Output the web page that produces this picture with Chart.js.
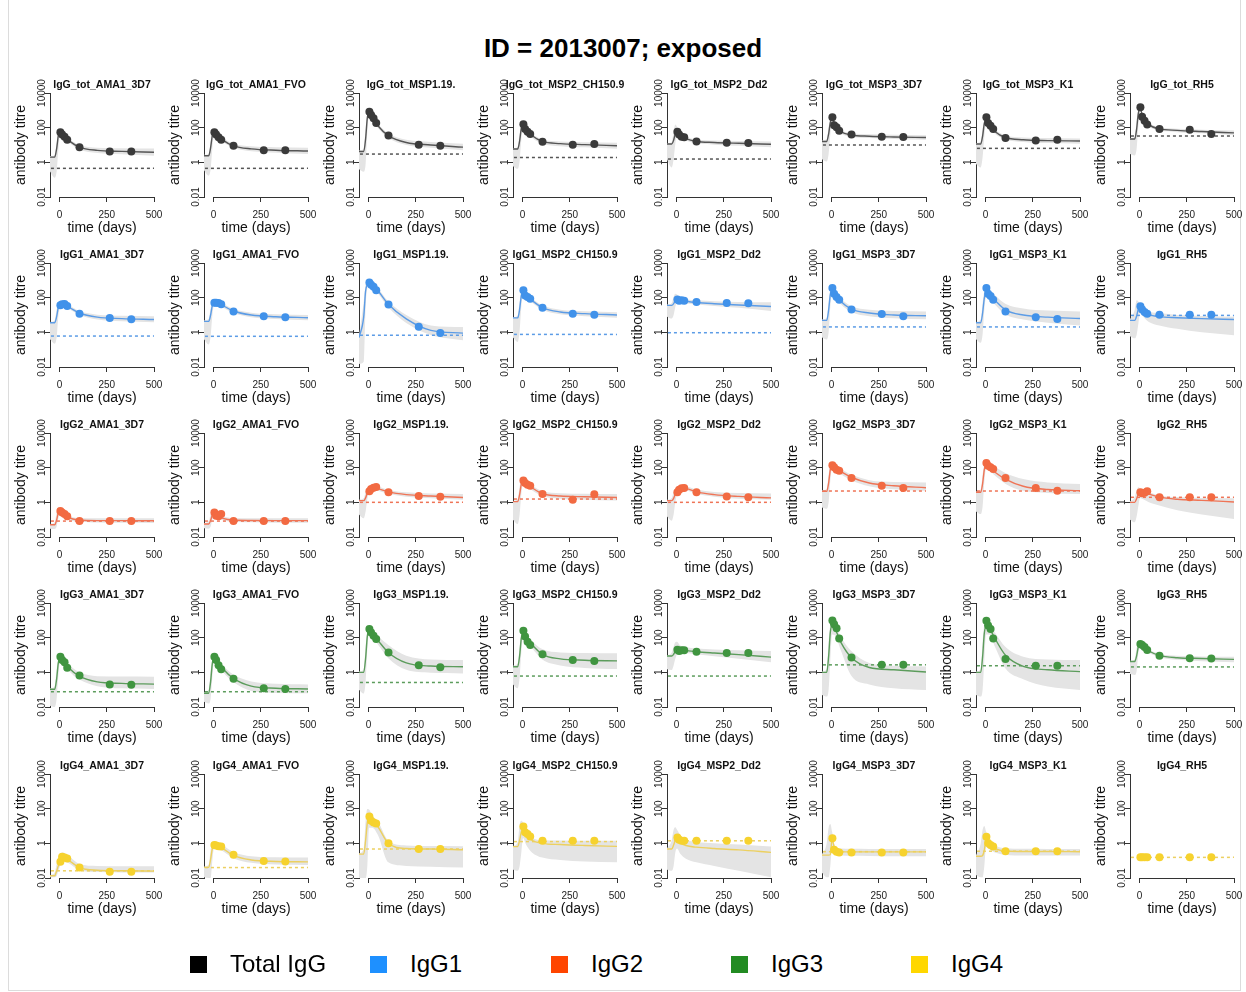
<!DOCTYPE html>
<html>
<head>
<meta charset="utf-8">
<title>ID = 2013007; exposed</title>
<script src="https://cdn.jsdelivr.net/npm/chart.js@4.4.0/dist/chart.umd.min.js"></script>
<style>
  html, body { margin: 0; padding: 0; background: #fff; }
  body { width: 1246px; height: 992px; position: relative; overflow: hidden;
         font-family: 'Liberation Sans', Arial, Helvetica, sans-serif; color: #000; }
  #frame { position: absolute; left: 8px; top: 0; width: 1231px; height: 990px;
           border-left: 1px solid #dcdcdc; border-right: 1px solid #dcdcdc; border-bottom: 1px solid #dcdcdc; }
  #main-title { position: absolute; left: 0; top: 33px; width: 1246px; text-align: center;
                font-weight: bold; font-size: 26px; line-height: 30px; }
  .panel { position: absolute; width: 164px; height: 170px; }
  .legend-item { position: absolute; top: 950px; height: 28px; display: flex; align-items: center; }
  .legend-box { width: 17px; height: 17px; margin-right: 23px; }
  .legend-text { font-size: 24px; line-height: 28px; }
</style>
</head>
<body>
<div id="frame"></div>
<div id="main-title">ID = 2013007; exposed</div>
<div id="panels"></div>
<div id="legend"></div>

<script>
// ── Labels ─────────────────────────────────────────────────────────
const ISOTYPES      = ['IgG_tot', 'IgG1', 'IgG2', 'IgG3', 'IgG4'];
const LEGEND_LABELS = ['Total IgG', 'IgG1', 'IgG2', 'IgG3', 'IgG4'];
const ANTIGENS      = ['AMA1_3D7', 'AMA1_FVO', 'MSP1.19.', 'MSP2_CH150.9',
                       'MSP2_Dd2', 'MSP3_3D7', 'MSP3_K1', 'RH5'];

// ── Axes ───────────────────────────────────────────────────────────
const X_TICKS  = [0, 250, 500];
const Y_TICKS  = [0.01, 1, 100, 10000];
const OBS_DAYS = [5, 14, 27, 41, 106, 266, 380];
const FIT_DAYS = [-50, -25, -15, -6, 3, 20, 50, 105, 200, 330, 500];

// ── Total IgG ──────────────────────────────────────────────────────
const TOT_OBS = [
  [54, 40, 30, 20, 7.4, 4.2, 4.2],
  [54, 40, 28, 20, 9, 4.9, 4.9],
  [830, 540, 350, 185, 35, 10.5, 9],
  [160, 83, 59, 43, 15.5, 10.5, 11.5],
  [59, 40, 30, 28, 16, 13.5, 13],
  [400, 140, 105, 67, 40, 30, 29],
  [400, 185, 130, 83, 25, 18, 20],
  [1500, 420, 250, 150, 83, 76, 43],
];
const TOT_FIT = [
  [2, 2, 6, 35, 59, 35, 18, 7.6, 4.9, 4.3, 3.8],
  [2.4, 2.4, 7, 36, 59, 38, 19, 9, 6, 5, 4.5],
  [4.2, 4.2, 23, 360, 800, 400, 130, 35, 14, 10, 7.5],
  [5.9, 5.9, 17, 93, 150, 75, 35, 16, 12, 10.5, 9],
  [11.5, 11.5, 19, 44, 55, 36, 23, 16, 14, 12.5, 11],
  [16, 16, 43, 200, 320, 150, 60, 38, 32, 29, 27],
  [11.5, 11.5, 33, 175, 280, 150, 60, 27, 20, 18, 17],
  [22, 22, 82, 660, 1200, 380, 150, 85, 70, 60, 50],
];
const TOT_LO = [
  [0.3, 0.13, 0.3, 5, 40, 27, 14, 5.5, 3.4, 2.9, 2.4],
  [0.35, 0.17, 0.4, 6, 40, 29, 15, 7, 4.4, 3.6, 3],
  [0.4, 0.29, 0.8, 60, 550, 300, 95, 25, 10, 7, 5],
  [0.6, 0.42, 1.2, 20, 100, 55, 26, 12, 8.5, 7.3, 6],
  [1.5, 0.5, 1.5, 12, 35, 27, 18, 12.5, 10.5, 9, 7.5],
  [1.5, 1.1, 3, 40, 200, 110, 46, 30, 25, 22, 20],
  [0.8, 0.5, 2, 30, 180, 110, 45, 21, 15, 13, 12],
  [3, 2.5, 6, 120, 800, 280, 115, 68, 55, 47, 38],
];
const TOT_HI = [
  [2.3, 2.6, 12, 50, 75, 45, 23, 10, 7, 6.4, 6.2],
  [2.7, 3, 14, 52, 75, 48, 25, 12, 8.5, 7.5, 7],
  [4.8, 6, 90, 700, 1000, 520, 170, 48, 20, 15, 12],
  [6.5, 8, 45, 140, 200, 100, 46, 21, 16, 14.5, 13.5],
  [12.5, 15, 60, 150, 110, 50, 30, 21, 18, 17, 16],
  [18, 22, 110, 330, 420, 200, 78, 48, 42, 39, 37],
  [13, 16, 90, 300, 380, 200, 80, 35, 27, 25, 24],
  [25, 30, 250, 1100, 1500, 500, 190, 105, 88, 77, 68],
];
const TOT_BASE = [0.45, 0.45, 3.0, 1.9, 1.55, 10, 6.4, 33];

// ── IgG1 ───────────────────────────────────────────────────────────
const IGG1_OBS = [
  [36, 42, 43, 33, 12, 6.8, 5.6],
  [51, 51, 49, 42, 16, 8.4, 7.4],
  [740, 560, 420, 265, 40, 2.1, 0.91],
  [265, 135, 110, 87, 26, 12, 10.5],
  [79, 67, 70, 67, 56, 49, 47],
  [360, 170, 110, 76, 21, 11.5, 8.4],
  [360, 170, 125, 76, 16, 7.4, 5.9],
  [32, 21, 15, 12, 10.5, 10.5, 10.5],
];
const IGG1_FIT = [
  [3.6, 3.6, 8, 28, 38, 40, 28, 13, 7.5, 6.2, 5.5],
  [4.3, 4.3, 10, 35, 48, 50, 35, 17, 10, 8, 7],
  [0.49, 8, 250, 550, 740, 520, 250, 42, 6, 1.3, 0.9],
  [6.8, 6.8, 21, 130, 220, 140, 70, 27, 15, 12, 10],
  [36, 36, 45, 66, 76, 70, 62, 53, 45, 38, 31],
  [4.9, 4.9, 19, 155, 280, 160, 60, 22, 13, 10, 9],
  [3.6, 3.6, 13, 95, 170, 150, 70, 20, 10, 7.5, 6.3],
  [4.9, 4.9, 8.7, 22, 29, 17, 10.5, 8, 7, 6.2, 5.5],
];
const IGG1_LO = [
  [0.4, 0.22, 0.5, 8, 27, 31, 22, 10, 5.5, 4.4, 3.8],
  [0.4, 0.2, 0.6, 9, 35, 40, 27, 13, 7.5, 5.8, 5],
  [0.015, 0.02, 30, 350, 550, 400, 180, 28, 3.5, 0.7, 0.35],
  [0.5, 0.28, 1.2, 30, 150, 105, 53, 20, 11, 8.5, 7],
  [8, 6.2, 10, 30, 55, 55, 48, 41, 33, 26, 17],
  [0.5, 0.38, 1, 30, 180, 110, 42, 15, 8.5, 6.5, 5.6],
  [0.4, 0.25, 0.8, 20, 100, 95, 40, 11, 5.5, 3.6, 2.5],
  [0.6, 0.45, 0.7, 3, 14, 8, 4, 2.5, 1.6, 1.0, 0.68],
];
const IGG1_HI = [
  [4, 5, 20, 45, 50, 52, 36, 17, 10.5, 9, 8.5],
  [4.8, 6, 24, 58, 62, 62, 44, 22, 13.5, 11, 10],
  [0.6, 60, 600, 900, 1000, 700, 340, 62, 10, 2.5, 2],
  [7.5, 9.5, 60, 220, 300, 185, 92, 36, 20, 16.5, 14.5],
  [40, 50, 110, 170, 150, 100, 82, 70, 62, 57, 55],
  [5.5, 7, 55, 300, 420, 240, 90, 33, 20, 17, 16],
  [4, 5.5, 50, 250, 380, 280, 140, 45, 24, 18, 16],
  [5.5, 20, 70, 60, 45, 26, 16, 13, 10, 8.8, 8],
];
const IGG1_BASE = [0.61, 0.59, 0.68, 0.76, 0.95, 2.05, 2.05, 9.5];

// ── IgG2 ───────────────────────────────────────────────────────────
const IGG2_OBS = [
  [0.32, 0.26, 0.21, 0.155, 0.083, 0.083, 0.083],
  [0.26, 0.17, 0.155, 0.21, 0.083, 0.083, 0.083],
  [4.3, 5.9, 7, 7.6, 3.8, 2.3, 2.1],
  [18, 13, 10.5, 9, 3, 1.4, 2.9],
  [3.8, 5.4, 6.5, 6.8, 3.8, 2.2, 1.95],
  [140, 105, 76, 67, 25, 9, 6.8],
  [185, 130, 105, 83, 25, 6.8, 4.7],
  [3.8, 3.3, 3.6, 4.3, 1.95, 1.95, 1.95],
];
const IGG2_FIT = [
  [0.051, 0.051, 0.095, 0.25, 0.33, 0.25, 0.13, 0.095, 0.088, 0.088, 0.087],
  [0.056, 0.056, 0.09, 0.19, 0.24, 0.17, 0.12, 0.095, 0.09, 0.088, 0.088],
  [1.26, 1.26, 1.8, 3.5, 5.3, 6.3, 6, 4, 2.8, 2.3, 1.9],
  [1.1, 1.1, 2.75, 11.7, 18, 12, 7, 3.2, 2.3, 2.1, 1.9],
  [1.26, 1.26, 1.7, 3, 4.2, 5.8, 6.2, 4, 2.8, 2.2, 1.8],
  [4.3, 4.3, 13, 78, 130, 95, 60, 28, 13, 9, 7],
  [3.8, 3.8, 12, 78, 130, 100, 55, 22, 8.5, 5.5, 4.7],
  [1.0, 1.0, 1.6, 3, 3.7, 3.6, 3, 2, 1.5, 1.3, 1.05],
];
const IGG2_LO = [
  [0.03, 0.029, 0.04, 0.12, 0.24, 0.18, 0.1, 0.075, 0.068, 0.066, 0.065],
  [0.032, 0.03, 0.04, 0.1, 0.17, 0.13, 0.093, 0.075, 0.07, 0.067, 0.066],
  [0.2, 0.12, 0.3, 1.5, 3.8, 5, 4.7, 3.1, 2.1, 1.7, 1.4],
  [0.1, 0.056, 0.2, 3, 12, 8.5, 5, 2.3, 1.6, 1.4, 1.26],
  [0.15, 0.087, 0.2, 1, 2.8, 4.3, 4.8, 3.1, 2.1, 1.6, 1.4],
  [0.5, 0.42, 1, 18, 90, 70, 42, 19, 8.5, 5.6, 4.6],
  [0.3, 0.21, 0.6, 15, 85, 70, 35, 12, 4.6, 3.5, 3],
  [0.1, 0.07, 0.15, 0.6, 1.8, 1.5, 1.0, 0.65, 0.35, 0.2, 0.11],
];
const IGG2_HI = [
  [0.056, 0.07, 0.25, 0.5, 0.5, 0.34, 0.17, 0.125, 0.12, 0.12, 0.12],
  [0.062, 0.08, 0.2, 0.36, 0.36, 0.24, 0.16, 0.125, 0.12, 0.12, 0.12],
  [1.4, 1.7, 4, 6.5, 7.5, 8, 7.8, 5.2, 3.8, 3.2, 3],
  [1.2, 1.6, 8, 20, 25, 16, 9.5, 4.5, 3.3, 3.1, 3],
  [1.4, 1.8, 4, 6, 6.5, 8, 8.3, 5.5, 4, 3.4, 3.2],
  [4.8, 6, 40, 150, 180, 130, 85, 40, 19, 15, 14],
  [4.2, 5.5, 40, 160, 200, 160, 110, 50, 22, 14, 11.5],
  [1.1, 2, 5, 7.4, 6.5, 5.5, 4, 2.5, 2, 1.8, 1.7],
];
const IGG2_BASE = [0.083, 0.083, 1.0, 1.55, 1.0, 4.5, 4.5, 1.95];

// ── IgG3 ───────────────────────────────────────────────────────────
const IGG3_OBS = [
  [8, 5.1, 3.8, 1.85, 0.65, 0.2, 0.19],
  [8, 5.1, 2.6, 1.5, 0.42, 0.12, 0.11],
  [320, 200, 130, 83, 14, 2.6, 1.95],
  [250, 115, 59, 38, 11, 5.1, 4.5],
  [20, 17, 18.6, 18.6, 15.5, 13, 13],
  [980, 600, 350, 90, 7.2, 2.7, 2.7],
  [950, 500, 320, 91, 5.9, 2.4, 2.4],
  [43, 38, 29, 19.5, 9, 6.5, 6.2],
];
const IGG3_FIT = [
  [0.105, 0.105, 0.41, 3.5, 6.5, 4.5, 1.8, 0.6, 0.28, 0.23, 0.21],
  [0.062, 0.062, 0.29, 3.2, 6.5, 4.5, 1.6, 0.45, 0.16, 0.12, 0.11],
  [1, 1, 6.5, 120, 280, 170, 70, 14, 3.5, 2.3, 2.1],
  [2.1, 2.1, 9, 90, 180, 110, 40, 11, 6, 5, 4.6],
  [8.7, 8.7, 11, 16, 18, 20, 18, 15.5, 13, 10.5, 7.5],
  [1, 1, 8, 200, 500, 300, 54, 7.2, 1.9, 1.4, 1.05],
  [1, 1, 8, 180, 430, 350, 90, 10, 2.2, 1.4, 1.1],
  [4.2, 4.2, 9, 30, 43, 30, 17, 9.5, 7, 6.3, 5.6],
];
const IGG3_LO = [
  [0.012, 0.01, 0.03, 0.6, 4.5, 3.2, 1.2, 0.38, 0.16, 0.12, 0.11],
  [0.02, 0.016, 0.03, 0.5, 4.5, 3.1, 1.05, 0.28, 0.085, 0.065, 0.062],
  [0.1, 0.06, 0.3, 20, 180, 110, 40, 6.5, 1.4, 0.95, 0.87],
  [0.2, 0.12, 0.5, 15, 110, 70, 25, 5.5, 2.5, 1.8, 1.55],
  [1.5, 1.35, 2.5, 6, 11, 14, 13, 11, 8.5, 6, 3.8],
  [0.05, 0.04, 0.1, 5, 150, 130, 18, 0.63, 0.2, 0.12, 0.095],
  [0.05, 0.04, 0.1, 5, 150, 150, 30, 1.7, 0.4, 0.15, 0.095],
  [0.8, 0.71, 1.2, 12, 32, 24, 13.5, 7.5, 5.3, 4.4, 3.8],
];
const IGG3_HI = [
  [0.12, 0.16, 1.5, 6.5, 9, 6.5, 2.7, 1, 0.6, 0.57, 0.56],
  [0.07, 0.1, 1.2, 6, 9, 6.5, 2.5, 0.75, 0.3, 0.22, 0.2],
  [1.1, 1.5, 30, 250, 400, 260, 120, 38, 9, 5.5, 5.1],
  [2.4, 3.2, 30, 200, 280, 170, 65, 22, 14, 13, 12.5],
  [9.5, 14, 30, 55, 59, 35, 28, 24, 21, 19, 17],
  [1.1, 1.5, 60, 600, 1000, 600, 110, 17, 3.5, 2.4, 2.2],
  [1.1, 1.5, 60, 600, 900, 700, 200, 30, 8, 5.5, 5.1],
  [4.6, 5.5, 25, 48, 55, 38, 21, 12, 9, 8.3, 8],
];
const IGG3_BASE = [0.076, 0.076, 0.26, 0.61, 0.61, 2.7, 2.4, 2.05];

// ── IgG4 ───────────────────────────────────────────────────────────
const IGG4_OBS = [
  [0.087, 0.17, 0.15, 0.135, 0.041, 0.023, 0.023],
  [0.79, 0.74, 0.68, 0.65, 0.22, 0.096, 0.091],
  [35, 20, 16, 14, 1.0, 0.47, 0.47],
  [9.5, 4.3, 3.4, 2.5, 1.4, 1.4, 1.4],
  [2.2, 1.6, 1.4, 1.4, 1.4, 1.4, 1.4],
  [1.95, 0.43, 0.33, 0.3, 0.3, 0.3, 0.3],
  [2.4, 1.05, 0.8, 0.65, 0.35, 0.35, 0.35],
  [0.155, 0.155, 0.155, 0.155, 0.155, 0.155, 0.155],
];
const IGG4_FIT = [
  [0.0135, 0.0135, 0.025, 0.05, 0.09, 0.13, 0.1, 0.04, 0.028, 0.026, 0.025],
  [0.041, 0.041, 0.12, 0.5, 0.74, 0.7, 0.5, 0.2, 0.11, 0.09, 0.085],
  [0.24, 0.24, 1.5, 15, 32, 20, 9, 1.0, 0.5, 0.47, 0.43],
  [0.65, 0.65, 1.5, 4.5, 6.7, 3.2, 1.5, 1.0, 0.85, 0.75, 0.67],
  [0.47, 0.47, 0.8, 1.5, 1.7, 1.1, 0.75, 0.6, 0.5, 0.42, 0.3],
  [0.21, 0.21, 0.21, 0.22, 1.7, 0.4, 0.33, 0.32, 0.32, 0.32, 0.32],
  [0.18, 0.18, 0.2, 0.4, 1.6, 0.8, 0.5, 0.36, 0.34, 0.34, 0.33],
  [],
];
const IGG4_LO = [
  [0.011, 0.011, 0.013, 0.025, 0.05, 0.09, 0.07, 0.028, 0.022, 0.021, 0.021],
  [0.011, 0.01, 0.01, 0.1, 0.5, 0.5, 0.35, 0.14, 0.075, 0.06, 0.056],
  [0.01, 0.01, 0.01, 0.05, 8, 8, 3, 0.08, 0.05, 0.045, 0.04],
  [0.03, 0.026, 0.05, 0.3, 2, 0.8, 0.3, 0.15, 0.11, 0.09, 0.08],
  [0.03, 0.026, 0.05, 0.3, 0.5, 0.25, 0.13, 0.08, 0.05, 0.026, 0.011],
  [0.02, 0.011, 0.011, 0.05, 0.5, 0.25, 0.2, 0.19, 0.185, 0.18, 0.18],
  [0.015, 0.011, 0.011, 0.05, 0.6, 0.45, 0.3, 0.22, 0.2, 0.2, 0.2],
  [],
];
const IGG4_HI = [
  [0.015, 0.02, 0.06, 0.15, 0.25, 0.3, 0.18, 0.065, 0.05, 0.048, 0.047],
  [0.045, 0.06, 0.4, 1.1, 1.26, 1.1, 0.75, 0.32, 0.18, 0.155, 0.15],
  [0.26, 0.5, 20, 95, 90, 40, 18, 1.4, 0.75, 0.7, 0.68],
  [0.7, 1.2, 12, 20, 16, 5, 2.2, 1.5, 1.45, 1.4, 1.4],
  [0.5, 1.5, 6, 8.4, 6, 3, 1.6, 1.2, 1.0, 0.85, 0.65],
  [0.23, 1, 8, 13, 5, 0.6, 0.5, 0.48, 0.47, 0.47, 0.47],
  [0.2, 1, 6, 10, 5, 1.4, 0.75, 0.52, 0.48, 0.47, 0.47],
  [],
];
const IGG4_BASE = [0.026, 0.04, 0.47, 1.26, 1.4, 0.33, 0.35, 0.155];

// ── Rows of the grid, one per isotype ──────────────────────────────
const OBS  = [TOT_OBS,  IGG1_OBS,  IGG2_OBS,  IGG3_OBS,  IGG4_OBS];
const FIT  = [TOT_FIT,  IGG1_FIT,  IGG2_FIT,  IGG3_FIT,  IGG4_FIT];
const LO   = [TOT_LO,   IGG1_LO,   IGG2_LO,   IGG3_LO,   IGG4_LO];
const HI   = [TOT_HI,   IGG1_HI,   IGG2_HI,   IGG3_HI,   IGG4_HI];
const BASE = [TOT_BASE, IGG1_BASE, IGG2_BASE, IGG3_BASE, IGG4_BASE];

// Colours
const LEGEND_COLORS = ['#000000', '#1e90ff', '#ff4500', '#228b22', '#ffd700'];
const POINT_COLORS  = ['#3a3a3a', '#4192ea', '#f26a42', '#409540', '#f6d22e'];
const LINE_COLORS   = ['#555555', '#5c9ce6', '#ef7456', '#5c9c5c', '#ecd060'];
const BAND_COLOR    = '#e4e4e4';
const AXIS_COLOR    = '#333333';
const NONE          = 'rgba(0,0,0,0)';

Chart.defaults.font.family = "'Liberation Sans', Arial, Helvetica, sans-serif";
Chart.defaults.color = '#222';

// Panel title and the R-style x axis line (only from first to last tick)
const panelChrome = {
  id: 'panelChrome',
  afterDraw(chart, args, opts) {
    const { ctx, chartArea, scales } = chart;
    const x = scales.x;
    ctx.save();
    ctx.strokeStyle = AXIS_COLOR;
    ctx.lineWidth = 1;
    const yb = Math.round(chartArea.bottom) + 0.5;
    ctx.beginPath();
    ctx.moveTo(x.getPixelForValue(X_TICKS[0]), yb);
    ctx.lineTo(x.getPixelForValue(X_TICKS[X_TICKS.length - 1]), yb);
    ctx.stroke();
    ctx.fillStyle = '#111';
    ctx.font = "bold 10.5px 'Liberation Sans', Arial, sans-serif";
    ctx.textAlign = 'center';
    ctx.textBaseline = 'middle';
    ctx.fillText(opts.text, (chartArea.left + chartArea.right) / 2, 15);
    ctx.restore();
  },
};

function xy(days, vals) {
  return vals.map((v, i) => ({ x: days[i], y: v }));
}

function panelDatasets(r, c) {
  const base = BASE[r][c];
  const last = FIT_DAYS.length - 1;
  return [
    { // observations
      data: xy(OBS_DAYS, OBS[r][c]),
      showLine: false,
      pointRadius: 4,
      pointBorderWidth: 0,
      pointBackgroundColor: POINT_COLORS[r],
      borderColor: NONE,
    },
    { // model fit
      data: xy(FIT_DAYS, FIT[r][c]),
      borderColor: LINE_COLORS[r],
      borderWidth: 1.4,
      pointRadius: 0,
      cubicInterpolationMode: 'monotone',
    },
    { // baseline (dashed)
      data: [{ x: FIT_DAYS[0] + 5, y: base }, { x: FIT_DAYS[last], y: base }],
      borderColor: LINE_COLORS[r],
      borderWidth: 1.5,
      borderDash: [3, 3],
      pointRadius: 0,
    },
    { // band lower
      data: xy(FIT_DAYS, LO[r][c]),
      borderColor: NONE,
      borderWidth: 0,
      pointRadius: 0,
      cubicInterpolationMode: 'monotone',
    },
    { // band upper, filled down to lower
      data: xy(FIT_DAYS, HI[r][c]),
      borderColor: NONE,
      borderWidth: 0,
      pointRadius: 0,
      backgroundColor: BAND_COLOR,
      fill: 3,
      cubicInterpolationMode: 'monotone',
    },
  ];
}

function makePanel(r, c) {
  const canvas = document.createElement('canvas');
  canvas.className = 'panel';
  canvas.width = 164;
  canvas.height = 170;
  canvas.style.left = Math.round(10 + 154.3 * c) + 'px';
  canvas.style.top = Math.round(69.7 + 170.25 * r) + 'px';
  document.getElementById('panels').appendChild(canvas);

  new Chart(canvas, {
    type: 'line',
    data: { datasets: panelDatasets(r, c) },
    plugins: [panelChrome],
    options: {
      responsive: false,
      animation: false,
      events: [],
      layout: { padding: { top: 23, right: 20, left: 0, bottom: 0 } },
      plugins: {
        legend: { display: false },
        tooltip: { enabled: false },
        panelChrome: { text: ISOTYPES[r] + '_' + ANTIGENS[c] },
      },
      scales: {
        x: {
          type: 'linear',
          min: FIT_DAYS[0],
          max: X_TICKS[X_TICKS.length - 1],
          afterBuildTicks: (s) => { s.ticks = X_TICKS.map(v => ({ value: v })); },
          afterFit: (s) => { s.height = 43; },
          border: { display: false },
          grid: { drawOnChartArea: false, drawTicks: true, tickLength: 5, color: AXIS_COLOR, lineWidth: 1 },
          ticks: { autoSkip: false, maxRotation: 0, padding: 7, font: { size: 10 }, color: '#222',
                   callback: (v) => String(v) },
          title: { display: true, text: 'time (days)', font: { size: 14 }, color: '#111',
                   padding: { top: 0, bottom: 3.5 } },
        },
        y: {
          type: 'logarithmic',
          min: Y_TICKS[0],
          max: Y_TICKS[Y_TICKS.length - 1],
          afterBuildTicks: (s) => { s.ticks = Y_TICKS.map(v => ({ value: v })); },
          afterFit: (s) => { s.width = 40; },
          border: { display: true, color: AXIS_COLOR, width: 1 },
          grid: { drawOnChartArea: false, drawTicks: true, tickLength: 5, color: AXIS_COLOR, lineWidth: 1 },
          ticks: { autoSkip: false, minRotation: 90, maxRotation: 90, crossAlign: 'center', padding: -11,
                   font: { size: 10 }, color: '#222', callback: (v) => String(v) },
          title: { display: true, text: 'antibody titre', font: { size: 14 }, color: '#111',
                   padding: { top: 3, bottom: 0 } },
        },
      },
    },
  });
}

for (let r = 0; r < ISOTYPES.length; r++) {
  for (let c = 0; c < ANTIGENS.length; c++) makePanel(r, c);
}

// ── Legend ─────────────────────────────────────────────────────────
const legend = document.getElementById('legend');
legend.innerHTML = LEGEND_LABELS.map((label, i) => `
  <div class="legend-item" style="left:${Math.round(190 + 180.3 * i)}px">
    <span class="legend-box" style="background:${LEGEND_COLORS[i]}"></span>
    <span class="legend-text">${label}</span>
  </div>`).join('');
</script>
</body>
</html>
